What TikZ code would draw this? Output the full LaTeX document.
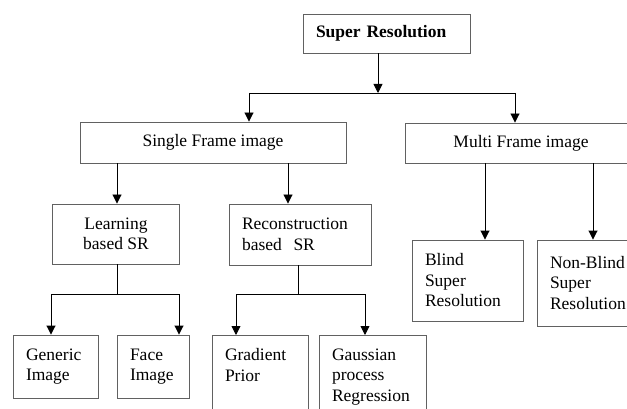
\documentclass[tikz,border=0pt]{standalone}
\usepackage{fontspec}
\setmainfont{Liberation Serif}
\usetikzlibrary{arrows.meta}
\tikzset{
  box/.style={draw=black!62, line width=0.9pt, inner sep=0pt, align=center, font=\fontsize{17.5}{20.5}\selectfont},
  lbox/.style={box, align=left, inner xsep=13pt},
  line/.style={line width=0.9pt, black},
  tip/.style={line, -{Triangle[length=9pt,width=9pt]}}
}

\begin{document}
\begin{tikzpicture}[x=1pt, y=-1pt]
			%%%%% START %%%%%
			\useasboundingbox (0,0) rectangle (627,409);
			\clip (0,0) rectangle (627,409);
			
			\node[lbox, text width=141, minimum height=39, font=\fontsize{17.5}{20.5}\selectfont\bfseries] (sr) at (386.5, 33.5) {Super Resolution};
			
			\node[box, minimum width=266, minimum height=41] (single) at (213, 142.5) {Single Frame image};
			\node[box, minimum width=232, minimum height=40] (multi) at (521, 143) {Multi Frame image};
			
			\node[box, minimum width=127, minimum height=60] (learn) at (116, 234) {Learning\\based SR};
			\node[lbox, text width=116, minimum height=61] (recon) at (300, 234.5) {Reconstruction\\based\ \ SR};
			
			\node[lbox, text width=59, minimum height=63] (generic) at (55.5, 366.5) {Generic\\Image};
			\node[lbox, text width=46, minimum height=63] (face) at (153, 366.5) {Face\\Image};
			\node[lbox, text width=70, inner ysep=13pt, text depth=80pt, anchor=north] (grad) at (260, 335) {Gradient\\Prior};
			\node[lbox, text width=81, inner ysep=13pt, text depth=80pt, anchor=north] (gauss) at (372.5, 335) {Gaussian\\process\\Regression};
			
			\node[lbox, text width=85, minimum height=81] (blind) at (467.5, 280.5) {Blind\\Super\\Resolution};
			\node[lbox, text width=94, minimum height=86] (nonblind) at (597, 283) {Non-Blind\\Super\\Resolution};
			
			% top split
			\coordinate (top) at (378, 93);
			\coordinate (tl) at (249, 93);
			\coordinate (tr) at (515, 93);
			\draw[tip] (sr.south -| top) -- (top);
			\draw[line] (tl) -- (tr);
			\draw[tip] (tl) -- (tl |- single.north);
			\draw[tip] (tr) -- (tr |- multi.north);
			
			% single frame
			\coordinate (sx) at (117, 0);
			\coordinate (rx) at (288, 0);
			\draw[tip] (single.south -| sx) -- (learn.north -| sx);
			\draw[tip] (single.south -| rx) -- (recon.north -| rx);
			
			% learning based
			\coordinate (lb) at (117, 294);
			\coordinate (ll) at (51, 294);
			\coordinate (lr) at (179, 294);
			\draw[line] (learn.south -| lb) -- (lb);
			\draw[line] (ll) -- (lr);
			\draw[tip] (ll) -- (ll |- generic.north);
			\draw[tip] (lr) -- (lr |- face.north);
			
			% reconstruction based
			\coordinate (rb) at (298, 294);
			\coordinate (rl) at (236, 294);
			\coordinate (rr) at (365, 294);
			\draw[line] (recon.south -| rb) -- (rb);
			\draw[line] (rl) -- (rr);
			\draw[tip] (rl) -- (rl |- grad.north);
			\draw[tip] (rr) -- (rr |- gauss.north);
			
			% multi frame
			\coordinate (mx) at (485, 0);
			\coordinate (nx) at (593, 0);
			\draw[tip] (multi.south -| mx) -- (blind.north -| mx);
			\draw[tip] (multi.south -| nx) -- (nonblind.north -| nx);
			
			%%%%% END %%%%%
\end{tikzpicture}
\end{document}
